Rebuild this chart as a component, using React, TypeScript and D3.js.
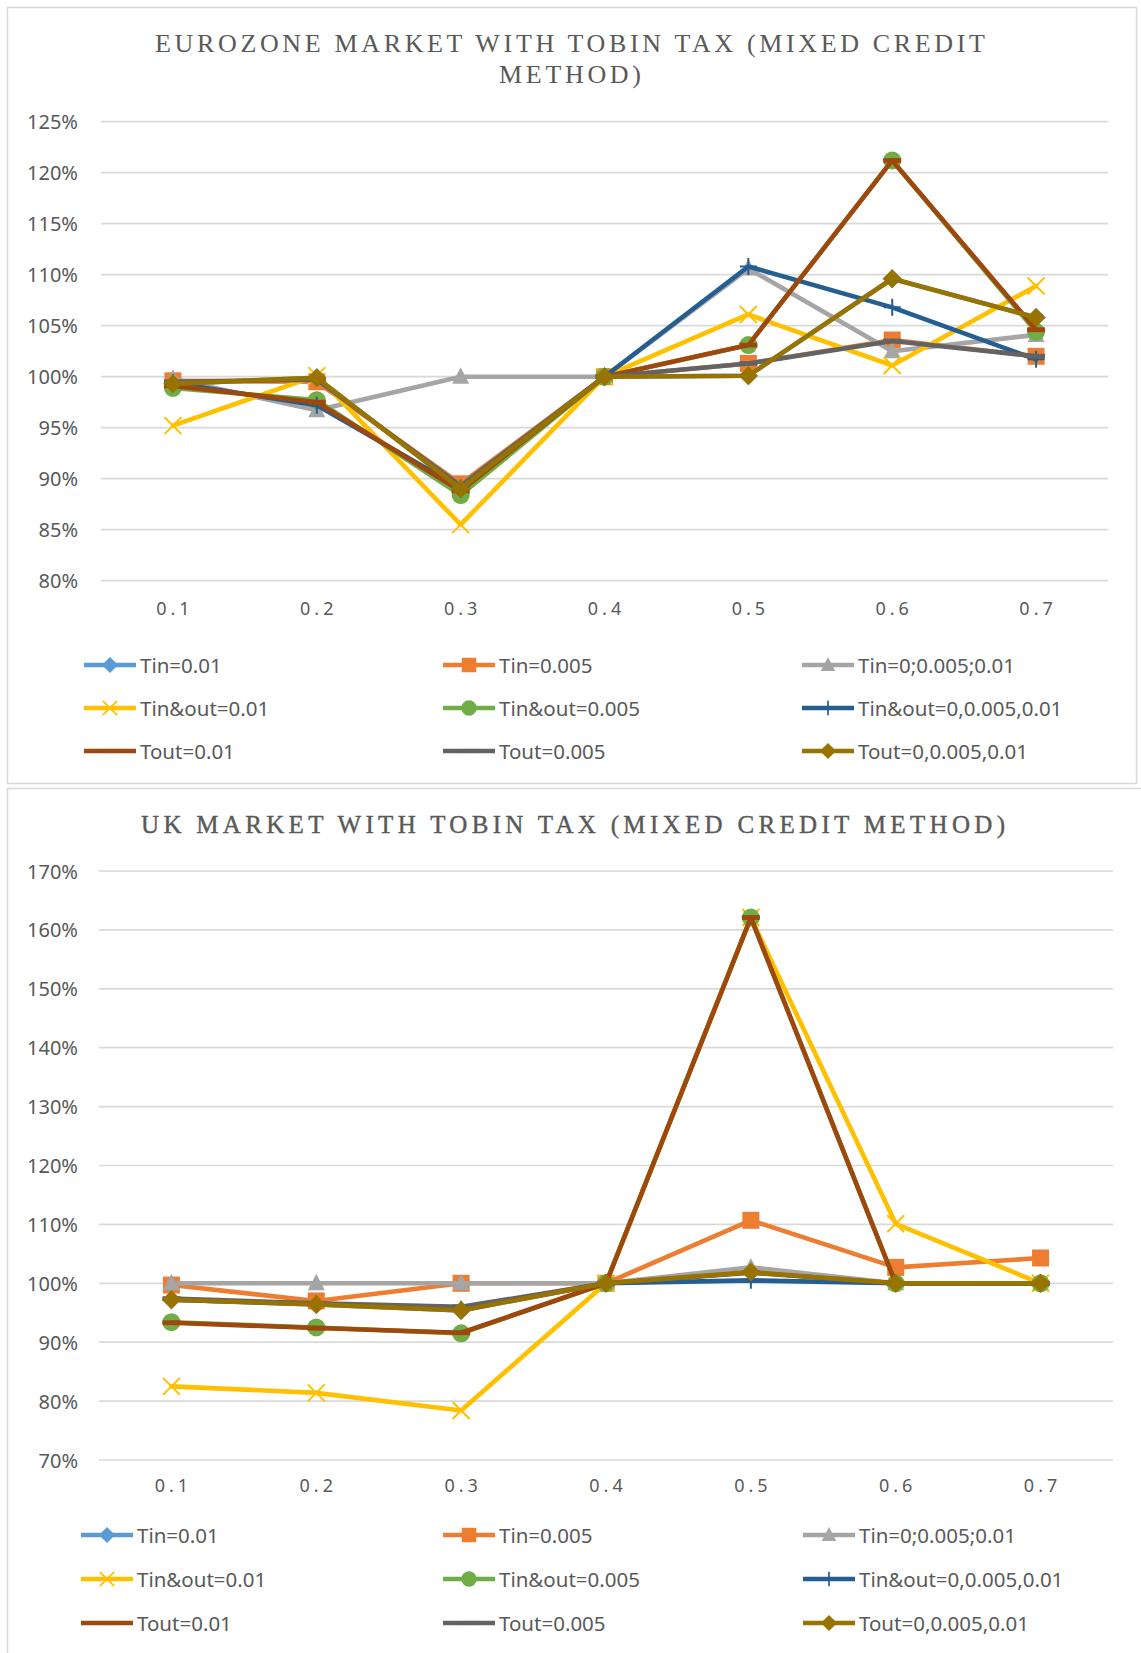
import React, { useEffect, useRef } from "react";
import * as d3 from "d3";

const categories = ["0.1", "0.2", "0.3", "0.4", "0.5", "0.6", "0.7"];

const seriesNames = [
  "Tin=0.01", "Tin=0.005", "Tin=0;0.005;0.01",
  "Tin&out=0.01", "Tin&out=0.005", "Tin&out=0,0.005,0.01",
  "Tout=0.01", "Tout=0.005", "Tout=0,0.005,0.01",
];
const seriesColors = ["#5B9BD5", "#ED7D31", "#A5A5A5", "#FFC000", "#70AD47", "#255E91", "#9E480E", "#636363", "#997300"];
const seriesMarkers = ["diamond", "square", "triangle", "x", "circle", "plus", "dash", "dash", "diamond"];

// eurozone market, values in %
const euroTin001 = [99.3, 99.9, 89.0, 100, 100.1, 109.6, 105.8];
const euroTin0005 = [99.6, 99.5, 89.5, 100, 101.3, 103.6, 102.0];
const euroTinMix = [99.8, 96.7, 100, 100, 110.6, 102.5, 104.1];
const euroInOut001 = [95.2, 100.1, 85.5, 100, 106.1, 101.1, 108.9];
const euroInOut0005 = [98.9, 97.7, 88.4, 100, 103.1, 121.2, 104.4];
const euroInOutMix = [99.4, 97.2, 89.1, 100, 110.8, 106.8, 101.7];
const euroTout001 = [99.1, 97.5, 88.8, 100, 103.1, 121.2, 104.6];
const euroTout0005 = [99.5, 99.7, 89.3, 100, 101.3, 103.5, 102.0];
const euroToutMix = [99.3, 99.9, 89.0, 100, 100.1, 109.6, 105.8];
const euroTicks = [80, 85, 90, 95, 100, 105, 110, 115, 120, 125];

// UK market, values in %
const ukTin001 = [97.2, 96.4, 95.4, 100, 101.9, 100, 100];
const ukTin0005 = [99.7, 97.0, 100, 100, 110.7, 102.7, 104.3];
const ukTinMix = [100, 100, 100, 100, 102.7, 100, 100];
const ukInOut001 = [82.5, 81.4, 78.4, 100, 162.1, 110.1, 100];
const ukInOut0005 = [93.4, 92.5, 91.5, 100, 162.1, 100, 100];
const ukInOutMix = [97.2, 96.5, 95.6, 100, 100.5, 100, 100];
const ukTout001 = [93.3, 92.4, 91.6, 100, 162.1, 100, 100];
const ukTout0005 = [97.4, 96.6, 96.0, 100, 101.8, 100, 100];
const ukToutMix = [97.2, 96.4, 95.4, 100, 101.9, 100, 100];
const ukTicks = [70, 80, 90, 100, 110, 120, 130, 140, 150, 160, 170];

const euroSeries = [euroTin001, euroTin0005, euroTinMix, euroInOut001, euroInOut0005, euroInOutMix, euroTout001, euroTout0005, euroToutMix];
const ukSeries = [ukTin001, ukTin0005, ukTinMix, ukInOut001, ukInOut0005, ukInOutMix, ukTout001, ukTout0005, ukToutMix];

const TEXT = "#595959";
const GRID = "#d9d9d9";
const SANS = "'Noto Sans', 'Open Sans', sans-serif";
const SERIF = "'Liberation Serif', 'DejaVu Serif', serif";

const drawMarker = (g, type, color, cx, cy, k) => {
  const m = g.append("g").attr("transform", `translate(${cx},${cy}) scale(${k})`);
  if (type === "diamond") {
    m.append("path").attr("d", "M0,-9.5L9.5,0L0,9.5L-9.5,0Z").attr("fill", color);
  } else if (type === "square") {
    m.append("rect").attr("x", -8.5).attr("y", -8.5).attr("width", 17).attr("height", 17).attr("fill", color);
  } else if (type === "triangle") {
    m.append("path").attr("d", "M0,-9.5L8.5,7L-8.5,7Z").attr("fill", color);
  } else if (type === "circle") {
    m.append("circle").attr("r", 9).attr("fill", color);
  } else if (type === "x") {
    m.append("path").attr("d", "M-8.5,-8.5L8.5,8.5M-8.5,8.5L8.5,-8.5").attr("stroke", color).attr("stroke-width", 2).attr("fill", "none");
  } else if (type === "plus") {
    m.append("path").attr("d", "M-8.5,0L8.5,0M0,-8.5L0,8.5").attr("stroke", color).attr("stroke-width", 2).attr("fill", "none");
  } else if (type === "dash") {
    m.append("rect").attr("x", -9).attr("y", -2.4).attr("width", 18).attr("height", 4.8).attr("fill", color);
  }
};

const drawChart = (svg, o) => {
  const g = svg.append("g");

  g.append("rect")
    .attr("x", o.frame[0]).attr("y", o.frame[1]).attr("width", o.frame[2]).attr("height", o.frame[3])
    .attr("fill", "#fff").attr("stroke", GRID).attr("stroke-width", 1.5);

  o.title.forEach((t, i) => {
    g.append("text")
      .attr("x", o.titleX).attr("y", o.titleY[i])
      .attr("text-anchor", "middle").attr("dominant-baseline", "central")
      .attr("textLength", o.titleLen[i]).attr("lengthAdjust", "spacing")
      .style("font-family", SERIF).style("font-size", o.titleSize + "px").style("fill", TEXT)
      .style("stroke", TEXT).style("stroke-width", o.titleStroke)
      .text(t);
  });

  const x = d3.scalePoint().domain(categories).range([o.left, o.right]).padding(0.5);
  const y = d3.scaleLinear().domain([o.ticks[0], o.ticks[o.ticks.length - 1]]).range([o.bottom, o.top]);

  g.append("g").selectAll("line").data(o.ticks).enter().append("line")
    .attr("x1", o.left).attr("x2", o.right)
    .attr("y1", (d) => y(d)).attr("y2", (d) => y(d))
    .attr("stroke", GRID).attr("stroke-width", 1.7);

  g.append("g").selectAll("text").data(o.ticks).enter().append("text")
    .attr("x", 78).attr("y", (d) => y(d))
    .attr("text-anchor", "end").attr("dominant-baseline", "central")
    .style("font-family", SANS).style("font-size", "20px").style("fill", TEXT)
    .text((d) => d + "%");

  g.append("g").selectAll("text").data(categories).enter().append("text")
    .attr("x", (d) => x(d) + 2).attr("y", o.xLabelY)
    .attr("text-anchor", "middle").attr("dominant-baseline", "central")
    .style("font-family", SANS).style("font-size", "18px").style("letter-spacing", "4px").style("fill", TEXT)
    .text((d) => d);

  const line = d3.line().x((d, i) => x(categories[i])).y((d) => y(d));

  o.series.forEach((vals, s) => {
    const sg = g.append("g");
    sg.append("path").datum(vals)
      .attr("d", line).attr("fill", "none")
      .attr("stroke", seriesColors[s]).attr("stroke-width", 4.6)
      .attr("stroke-linejoin", "round").attr("stroke-linecap", "round");
    vals.forEach((v, i) => drawMarker(sg, seriesMarkers[s], seriesColors[s], x(categories[i]), y(v), 1));
  });

  // legend, 3 columns x 3 rows
  seriesNames.forEach((name, s) => {
    const col = s % 3, row = Math.floor(s / 3);
    const lx = o.legendX[col], ly = o.legendY[row];
    g.append("line")
      .attr("x1", lx).attr("x2", lx + 52).attr("y1", ly).attr("y2", ly)
      .attr("stroke", seriesColors[s]).attr("stroke-width", 4.6);
    drawMarker(g, seriesMarkers[s], seriesColors[s], lx + 26, ly, 0.85);
    g.append("text")
      .attr("x", lx + 56).attr("y", ly)
      .attr("dominant-baseline", "central")
      .style("font-family", SANS).style("font-size", "20.5px").style("fill", TEXT)
      .text(name);
  });
};

const App = () => {
  const ref = useRef(null);

  useEffect(() => {
    const svg = d3.select(ref.current);
    svg.selectAll("*").remove();

    drawChart(svg, {
      frame: [7.5, 7.5, 1129, 776],
      title: ["EUROZONE MARKET WITH TOBIN TAX (MIXED CREDIT", "METHOD)"],
      titleX: 570, titleY: [43, 74], titleLen: [830, 142], titleSize: 26, titleStroke: 0,
      left: 101, right: 1108, top: 121.7, bottom: 580.7,
      ticks: euroTicks, series: euroSeries,
      xLabelY: 608,
      legendX: [84, 443, 802], legendY: [665, 708, 751],
    });

    drawChart(svg, {
      frame: [7.5, 788.5, 1145, 880],
      title: ["UK MARKET WITH TOBIN TAX (MIXED CREDIT METHOD)"],
      titleX: 573, titleY: [824], titleLen: [864], titleSize: 25, titleStroke: 0.4,
      left: 99, right: 1113, top: 871, bottom: 1460,
      ticks: ukTicks, series: ukSeries,
      xLabelY: 1485,
      legendX: [81, 443, 803], legendY: [1535, 1579, 1623],
    });
  }, []);

  return (
    <svg ref={ref} width={1141} height={1653}
      style={{ position: "absolute", left: 0, top: 0, background: "#fff" }} />
  );
};

export default App;
